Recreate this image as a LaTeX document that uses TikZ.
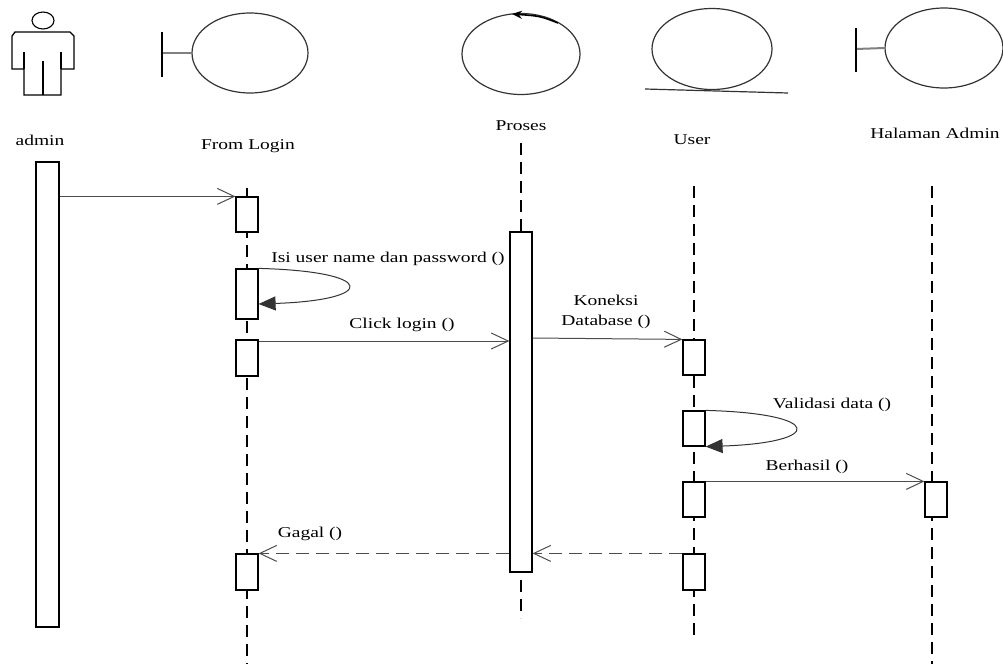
\documentclass[tikz,border=0pt]{standalone}
\usepackage{fontspec}
\setmainfont[FakeStretch=1.3]{Liberation Serif}
\usetikzlibrary{arrows.meta,positioning,shapes.geometric}
\definecolor{msggray}{gray}{0.3}
\definecolor{icongray}{gray}{0.2}

\begin{document}
\begin{tikzpicture}[x=1pt,y=-1pt,
  >={Straight Barb[length=17pt,width=16pt]},
  every node/.style={font=\fontsize{15}{20}\selectfont},
  icon/.style={ellipse,draw=icongray,line width=1.2pt,inner sep=0pt},
  lifeline/.style={line width=1.3pt,dash pattern=on 12pt off 7pt},
  act box/.style={draw,fill=white,line width=1.2pt,minimum width=22pt,inner sep=0pt},
  msg/.style={->,draw=msggray,line width=1pt},
  reply msg/.style={msg,dash pattern=on 13pt off 7pt},
  self msg/.style={-{Triangle[length=17pt,width=14pt]},draw=icongray,line width=1pt}]

  \useasboundingbox (0,0) rectangle (1003,664);

  % actor admin
  \draw[line width=1.3pt] (15,32) -- (70,32) -- (74,36) -- (74,69) -- (61,69) -- (61,95)
    -- (24,95) -- (24,69) -- (12,69) -- (12,36) -- cycle;
  \draw[line width=1.3pt] (24,52) -- (24,69) (61,52) -- (61,69) (43,61) -- (43,95);
  \draw[line width=1.1pt] (43,20.5) ellipse [x radius=11, y radius=8.5];

  % icons
  \node[icon, minimum width=116pt, minimum height=80pt] (loginicon) at (250,53) {};
  \node[icon, minimum width=118pt, minimum height=81pt] (procicon) at (521,54) {};
  \node[icon, minimum width=120pt, minimum height=81pt] (usericon) at (712,49) {};
  \node[icon, minimum width=118pt, minimum height=80pt] (adminicon) at (944,48) {};

  \draw[gray,line width=2pt] (loginicon.west) -- (162,53);
  \draw[line width=1.5pt] (162,32) -- (162,77);
  \draw[gray,line width=2pt] (adminicon.west) -- (856,49);
  \draw[line width=1.5pt] (856,28) -- (856,72);
  \draw[-{Stealth[length=10pt,width=8pt]},line width=1.6pt] (558,23) .. controls (540,16) .. (512,14);
  \draw[icongray,line width=1.2pt] (645,89) -- (788,93);

  % names
  \node (adminlbl) at (40,140) {admin};
  \node (loginlbl) at (248,146) {From Login};
  \node (proclbl) at (521,126) {Proses};
  \node (userlbl) at (692,140) {User};
  \node (halamanlbl) at (935,133) {Halaman Admin};

  % lifelines
  \draw[lifeline] (247,188) -- (247,664);
  \draw[lifeline] (521,143) -- (521,618);
  \draw[lifeline] (694,186) -- (694,637);
  \draw[lifeline] (932,186) -- (932,664);

  % activations
  \node[act box, minimum width=23pt, minimum height=465pt] (abar) at (47.5,394.5) {};
  \node[act box, minimum height=35pt] (fl1) at (247,214.5) {};
  \node[act box, minimum height=50pt] (fl2) at (247,294) {};
  \node[act box, minimum height=36pt] (fl3) at (247,358) {};
  \node[act box, minimum height=36pt] (fl4) at (247,572) {};
  \node[act box, minimum height=340pt] (pr1) at (521,402) {};
  \node[act box, minimum height=35pt] (us1) at (694,357.5) {};
  \node[act box, minimum height=35pt] (us2) at (694,428.5) {};
  \node[act box, minimum height=35pt] (us3) at (694,499.5) {};
  \node[act box, minimum height=36pt] (us4) at (694,572) {};
  \node[act box, minimum height=35pt] (ha1) at (936,499.5) {};

  % messages
  \draw[msg] (abar.east |- fl1.north) -- (fl1.north west);
  \draw[self msg] (fl2.north east) .. controls +(119,3) and +(119,-4) .. ([yshift=-10pt]fl2.east);
  \node (isilbl) at (388,259) {Isi user name dan password ()};
  \draw[msg] (fl3.east |- 0,341) -- (pr1.west |- 0,341);
  \node (clicklbl) at (402,325) {Click login ()};
  \draw[msg] (pr1.east |- 0,338) -- (us1.north west);
  \node[align=center] (koneksilbl) at (606,312) {Koneksi\\Database ()};
  \draw[self msg] (us2.north east) .. controls +(119,3) and +(119,-4) .. (us2.south east);
  \node (validasilbl) at (832,405) {Validasi data ()};
  \draw[msg] (us3.north east) -- (ha1.north west);
  \node (berhasillbl) at (807,467) {Berhasil ()};
  \draw[reply msg] (us4.north west) -- (pr1.east |- us4.north west);
  \draw[reply msg] (pr1.west |- fl4.north) -- (fl4.north east);
  \node (gagallbl) at (310,534) {Gagal ()};

\end{tikzpicture}
\end{document}
